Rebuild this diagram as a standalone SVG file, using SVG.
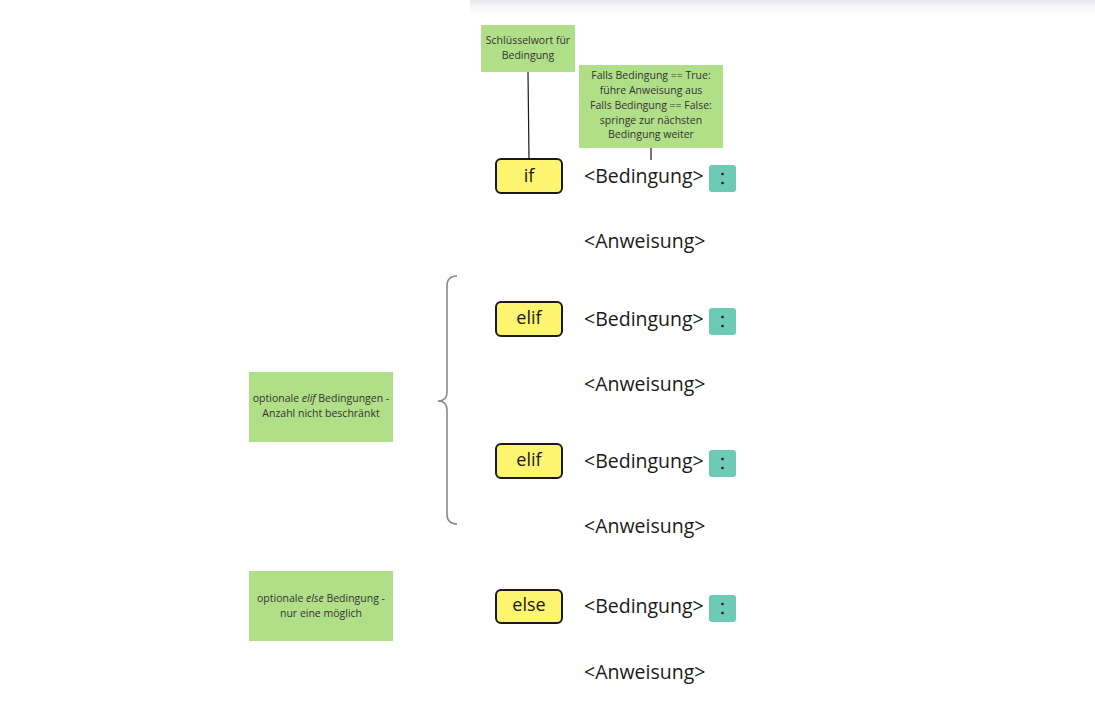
<svg xmlns="http://www.w3.org/2000/svg" width="1095" height="714" viewBox="0 0 1095 714">
<defs>
<linearGradient id="shadow" x1="0" y1="0" x2="0" y2="1">
<stop offset="0" stop-color="#e6e6ea" stop-opacity="1"/>
<stop offset="1" stop-color="#ffffff" stop-opacity="0"/>
</linearGradient>
</defs>
<style>
.note{fill:#b1df88;}
.small{font-family:"Open Sans","Liberation Sans",sans-serif;font-size:10.5px;fill:#333;text-anchor:middle;}
.kw{fill:#fdf56f;stroke:#1a1a1a;stroke-width:2;}
.kwt{font-family:"Open Sans","Liberation Sans",sans-serif;font-size:18px;fill:#1a1a1a;text-anchor:middle;}
.code{font-family:"Open Sans","Liberation Sans",sans-serif;font-size:19.5px;fill:#1a1a1a;}
.colon{fill:#6ccab6;}
.conn{stroke:#1a1a1a;stroke-width:1.2;fill:none;}
.brace{stroke:#8a8a8a;stroke-width:1.6;fill:none;}
</style>
<rect width="1095" height="714" fill="#ffffff"/>
<rect x="470" y="0" width="625" height="18" fill="url(#shadow)"/>

<g id="connectors">
<line class="conn" x1="528" y1="72" x2="529" y2="159"/>
<line class="conn" x1="651" y1="148" x2="651" y2="160"/>
<path class="brace" d="M457,276 Q447,276 447,286 L447,392 Q447,401 438,401 Q447,401 447,410 L447,514 Q447,524 457,524"/>
</g>

<g id="note-keyword">
<rect class="note" x="481" y="25" width="94" height="47"/>
<text class="small" x="528" y="44">Schlüsselwort für</text>
<text class="small" x="528" y="59">Bedingung</text>
</g>

<g id="note-condition">
<rect class="note" x="579" y="65" width="144" height="83"/>
<text class="small" x="651" y="79">Falls Bedingung == True:</text>
<text class="small" x="651" y="94">führe Anweisung aus</text>
<text class="small" x="651" y="109">Falls Bedingung == False:</text>
<text class="small" x="651" y="124">springe zur nächsten</text>
<text class="small" x="651" y="138">Bedingung weiter</text>
</g>

<g id="note-elif">
<rect class="note" x="249" y="372" width="144" height="70"/>
<text class="small" x="321" y="402">optionale <tspan font-style="italic">elif</tspan> Bedingungen -</text>
<text class="small" x="321" y="417">Anzahl nicht beschränkt</text>
</g>

<g id="note-else">
<rect class="note" x="249" y="571" width="144" height="70"/>
<text class="small" x="321" y="602">optionale <tspan font-style="italic">else</tspan> Bedingung -</text>
<text class="small" x="321" y="617">nur eine möglich</text>
</g>

<g id="kw-if">
<rect class="kw" x="496" y="159" width="66" height="34" rx="5"/>
<text class="kwt" x="529" y="182">if</text>
</g>
<g id="row-if">
<text class="code" x="584" y="183">&lt;Bedingung&gt;</text>
<rect class="colon" x="709" y="165" width="27" height="27" rx="3"/>
<circle cx="722.5" cy="174" r="1.3" fill="#1a1a1a"/>
<circle cx="722.5" cy="183" r="1.3" fill="#1a1a1a"/>
<text class="code" x="584" y="248">&lt;Anweisung&gt;</text>
</g>

<g id="kw-elif1">
<rect class="kw" x="496" y="302" width="66" height="34" rx="5"/>
<text class="kwt" x="529" y="324">elif</text>
</g>
<g id="row-elif1">
<text class="code" x="584" y="326">&lt;Bedingung&gt;</text>
<rect class="colon" x="709" y="308" width="27" height="27" rx="3"/>
<circle cx="722.5" cy="317" r="1.3" fill="#1a1a1a"/>
<circle cx="722.5" cy="326" r="1.3" fill="#1a1a1a"/>
<text class="code" x="584" y="391">&lt;Anweisung&gt;</text>
</g>

<g id="kw-elif2">
<rect class="kw" x="496" y="444" width="66" height="34" rx="5"/>
<text class="kwt" x="529" y="466">elif</text>
</g>
<g id="row-elif2">
<text class="code" x="584" y="468">&lt;Bedingung&gt;</text>
<rect class="colon" x="709" y="450" width="27" height="27" rx="3"/>
<circle cx="722.5" cy="459" r="1.3" fill="#1a1a1a"/>
<circle cx="722.5" cy="468" r="1.3" fill="#1a1a1a"/>
<text class="code" x="584" y="533">&lt;Anweisung&gt;</text>
</g>

<g id="kw-else">
<rect class="kw" x="496" y="590" width="66" height="33" rx="5"/>
<text class="kwt" x="529" y="611">else</text>
</g>
<g id="row-else">
<text class="code" x="584" y="613">&lt;Bedingung&gt;</text>
<rect class="colon" x="709" y="595" width="27" height="27" rx="3"/>
<circle cx="722.5" cy="604" r="1.3" fill="#1a1a1a"/>
<circle cx="722.5" cy="613" r="1.3" fill="#1a1a1a"/>
<text class="code" x="584" y="679">&lt;Anweisung&gt;</text>
</g>
</svg>
